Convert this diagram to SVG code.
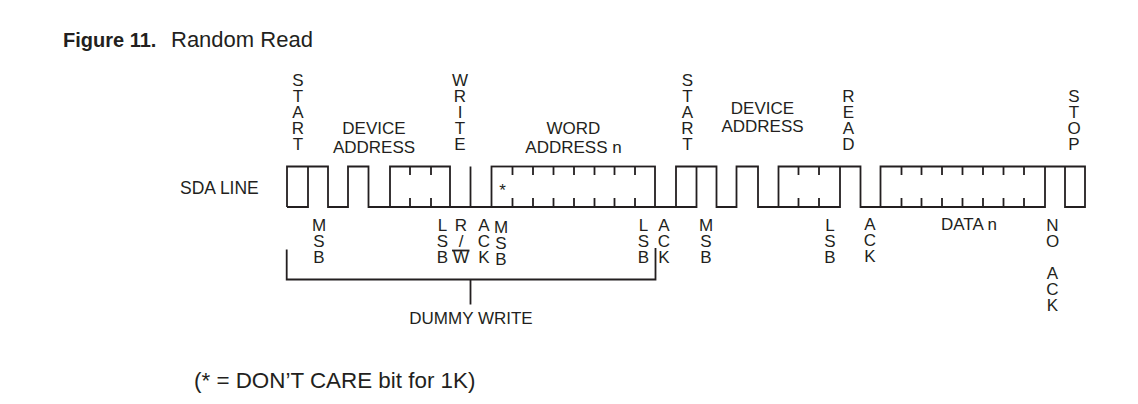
<svg xmlns="http://www.w3.org/2000/svg" width="1138" height="404" viewBox="0 0 1138 404">
<style>
.t{font-family:"Liberation Sans",Arial,sans-serif;font-size:17px;fill:#231f20}
.c{text-anchor:middle}
.w{fill:none;stroke:#231f20;stroke-width:1.8;stroke-linecap:butt;stroke-linejoin:miter}
</style>
<rect width="1138" height="404" fill="#ffffff"/>
<g id="title">
<text x="63" y="47" style="font-family:'Liberation Sans',Arial,sans-serif;font-size:20px;font-weight:bold;fill:#231f20">Figure 11.</text>
<text x="171" y="47" style="font-family:'Liberation Sans',Arial,sans-serif;font-size:22px;fill:#231f20">Random Read</text>
</g>
<g id="sda-label"><text class="t" x="180" y="194" style="font-size:17.5px">SDA LINE</text></g>
<g id="waveform" class="w">
<path d="M287,207 V166.5 H328 V207 H348 V166.5 H368.5 V207 H390 V166.5 H450 V207"/>
<path d="M287,207 H308 V166.5"/>
<path d="M390,207 H676"/>
<path d="M410,166.5 V175 M410,198 V207 M431,166.5 V175 M431,198 V207"/>
<path d="M470.5,166.5 V207"/>
<rect x="491.5" y="166.5" width="163.5" height="40.5"/>
<path d="M512.5,166.5 V175 M512.5,198 V207 M533,166.5 V175 M533,198 V207 M553.5,166.5 V175 M553.5,198 V207 M574,166.5 V175 M574,198 V207 M594.5,166.5 V175 M594.5,198 V207 M614.5,166.5 V175 M614.5,198 V207 M635,166.5 V175 M635,198 V207"/>
<path d="M676,207 V166.5 H716.5 V207 H736.5 V166.5 H758 V207 H778.5 V166.5 H860.5 V207 H880.5 V166.5 H1085 V207 H1065 V166.5"/>
<path d="M676,207 H696.5 V166.5"/>
<path d="M778.5,207 H840 V166.5"/>
<path d="M798.5,166.5 V175 M798.5,198 V207 M819,166.5 V175 M819,198 V207"/>
<path d="M880.5,207 H1045 V166.5"/>
<path d="M901.5,166.5 V175 M901.5,198 V207 M921.5,166.5 V175 M921.5,198 V207 M942,166.5 V175 M942,198 V207 M962.5,166.5 V175 M962.5,198 V207 M983,166.5 V175 M983,198 V207 M1003.5,166.5 V175 M1003.5,198 V207 M1024,166.5 V175 M1024,198 V207"/>
</g>
<g id="dont-care"><text class="t c" x="502.5" y="196">*</text></g>
<g id="top-labels" class="t c">
<text x="298" y="85.5"><tspan x="298">S</tspan><tspan x="298" dy="16">T</tspan><tspan x="298" dy="16">A</tspan><tspan x="298" dy="16">R</tspan><tspan x="298" dy="16">T</tspan></text>
<text x="374" y="134">DEVICE</text>
<text x="374" y="152.5">ADDRESS</text>
<text x="460" y="85.5"><tspan x="460">W</tspan><tspan x="460" dy="16">R</tspan><tspan x="460" dy="16">I</tspan><tspan x="460" dy="16">T</tspan><tspan x="460" dy="16">E</tspan></text>
<text x="573.5" y="133.5">WORD</text>
<text x="573.5" y="152.5">ADDRESS n</text>
<text x="687.5" y="85.5"><tspan x="687.5">S</tspan><tspan x="687.5" dy="16">T</tspan><tspan x="687.5" dy="16">A</tspan><tspan x="687.5" dy="16">R</tspan><tspan x="687.5" dy="16">T</tspan></text>
<text x="762.5" y="113.5">DEVICE</text>
<text x="762.5" y="131.5">ADDRESS</text>
<text x="848.5" y="101.5"><tspan x="848.5">R</tspan><tspan x="848.5" dy="16">E</tspan><tspan x="848.5" dy="16">A</tspan><tspan x="848.5" dy="16">D</tspan></text>
<text x="1074" y="101.5"><tspan x="1074">S</tspan><tspan x="1074" dy="16">T</tspan><tspan x="1074" dy="16">O</tspan><tspan x="1074" dy="16">P</tspan></text>
</g>
<g id="bottom-labels" class="t c">
<text x="319" y="230.5"><tspan x="319">M</tspan><tspan x="319" dy="16">S</tspan><tspan x="319" dy="16">B</tspan></text>
<text x="442.5" y="230.5"><tspan x="442.5">L</tspan><tspan x="442.5" dy="16">S</tspan><tspan x="442.5" dy="16">B</tspan></text>
<text x="461" y="230.5"><tspan x="461">R</tspan><tspan x="461" dy="16">/</tspan><tspan x="461" dy="16">W</tspan></text>
<text x="484" y="230.5"><tspan x="484">A</tspan><tspan x="484" dy="16">C</tspan><tspan x="484" dy="16">K</tspan></text>
<text x="501" y="232.5"><tspan x="501">M</tspan><tspan x="501" dy="16">S</tspan><tspan x="501" dy="16">B</tspan></text>
<text x="643.5" y="230.5"><tspan x="643.5">L</tspan><tspan x="643.5" dy="16">S</tspan><tspan x="643.5" dy="16">B</tspan></text>
<text x="664" y="230.5"><tspan x="664">A</tspan><tspan x="664" dy="16">C</tspan><tspan x="664" dy="16">K</tspan></text>
<text x="706" y="231"><tspan x="706">M</tspan><tspan x="706" dy="16">S</tspan><tspan x="706" dy="16">B</tspan></text>
<text x="830" y="230.5"><tspan x="830">L</tspan><tspan x="830" dy="16">S</tspan><tspan x="830" dy="16">B</tspan></text>
<text x="870" y="230"><tspan x="870">A</tspan><tspan x="870" dy="16">C</tspan><tspan x="870" dy="16">K</tspan></text>
<text x="969" y="230">DATA n</text>
<text x="1052.5" y="230.5"><tspan x="1052.5">N</tspan><tspan x="1052.5" dy="16">O</tspan><tspan x="1052.5" dy="32">A</tspan><tspan x="1052.5" dy="16">C</tspan><tspan x="1052.5" dy="16">K</tspan></text>
</g>
<g id="overline" class="w"><path d="M452,250.5 H469.5"/></g>
<g id="dummy-write">
<path class="w" d="M286.7,249.5 V279.5 H655.5 V248 M470.5,279.5 V304.5"/>
<text class="t c" x="471" y="324">DUMMY WRITE</text>
</g>
<g id="footnote"><text x="194" y="388" style="font-family:'Liberation Sans',Arial,sans-serif;font-size:22.4px;fill:#231f20">(* = DON’T CARE bit for 1K)</text></g>
</svg>
